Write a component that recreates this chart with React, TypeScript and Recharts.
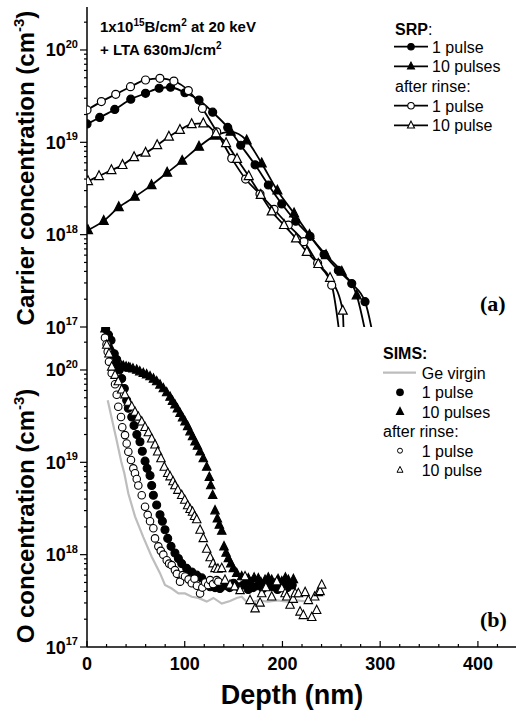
import React from 'react';
import { ComposedChart, Line, Scatter, XAxis, YAxis } from 'recharts';

const SANS = "'Liberation Sans', Arial, Helvetica, sans-serif";
const SERIF = "'Liberation Serif', 'Times New Roman', serif";

const DEPTH_MAX = 440;
const CONC_MIN = 1e17;
const CONC_MAX = 2.92e20;

// axis ticks
const depthTicks = [0, 20, 40, 60, 80, 100, 120, 140, 160, 180, 200, 220, 240, 260, 280, 300, 320, 340, 360, 380, 400, 420, 440];
const depthLabels = [0, 100, 200, 300, 400];
const concDecades = [1e17, 1e18, 1e19, 1e20];
const minorSteps = [2, 3, 4, 5, 6, 7, 8, 9];
const concTicks = [...concDecades, ...concDecades.flatMap((d) => minorSteps.map((m) => d * m))].filter(
  (v) => v <= CONC_MAX
);

// (a) SRP carrier profiles, depth in nm, concentration in cm^-3
// the last point of each profile is where the curve falls off below 1e17
const srp1Depth = [0, 13, 28.4, 44.8, 59.9, 73.8, 85.5, 100.2, 114.6, 128.6, 144, 157.3, 172, 185.6, 199.3, 213.6, 228.2, 242.6, 257.2, 270.9, 284.5, 295];
const srp1Conc = [1.58e19, 1.86e19, 2.27e19, 2.93e19, 3.39e19, 3.85e19, 3.95e19, 3.44e19, 2.87e19, 2.12e19, 1.45e19, 9.3e18, 5.7e18, 3.45e18, 2.15e18, 1.4e18, 9.6e17, 6.1e17, 4.1e17, 2.95e17, 1.88e17, 6e16];

const srp10Depth = [1, 17.1, 32.5, 48.9, 66, 82, 97.4, 114.6, 131, 147, 163.4, 178.8, 194.8, 211.9, 227.6, 244.6, 260.7, 276, 288];
const srp10Conc = [1.12e18, 1.41e18, 1.98e18, 2.57e18, 3.44e18, 4.68e18, 6.3e18, 8.95e18, 1.18e19, 1.3e19, 1.05e19, 5.9e18, 3.0e18, 1.7e18, 9.9e17, 6.0e17, 3.96e17, 2.2e17, 6e16];

const srpRinse1Depth = [0, 14.7, 29.4, 44.5, 59.9, 74.6, 88.9, 103.7, 118.1, 132.7, 148.1, 162.3, 177, 191.4, 206, 222, 236, 250.4, 260];
const srpRinse1Conc = [2.24e19, 2.76e19, 3.31e19, 4.0e19, 4.73e19, 4.93e19, 4.61e19, 3.63e19, 2.33e19, 1.3e19, 6.7e18, 4.0e18, 2.75e18, 1.88e18, 1.27e18, 8.4e17, 4.9e17, 2.84e17, 6e16];

const srpRinse10Depth = [1, 12.3, 25, 36.3, 48.2, 59.9, 71.8, 83.8, 95.1, 107.1, 119, 132, 142.3, 153.5, 165.5, 177.8, 189, 201.6, 213.9, 224.9, 236.7, 248.7, 261.7, 263];
const srpRinse10Conc = [3.8e18, 4.3e18, 5.0e18, 5.67e18, 6.9e18, 7.7e18, 9.3e18, 1.15e19, 1.36e19, 1.57e19, 1.6e19, 1.25e19, 9.8e18, 6.6e18, 4.3e18, 2.69e18, 1.78e18, 1.27e18, 9.1e17, 6.5e17, 4.8e17, 3.4e17, 1.5e17, 6e16];

// (b) SIMS oxygen profiles
const geVirginDepth = [21.2, 25, 30, 35, 38.2, 42.3, 49.1, 57.6, 66.2, 74.7, 79.8, 86.7, 93.5, 100.3, 107.2, 113.9, 122.5, 129.3, 137.9, 146.4, 153.2, 158.3, 165.1, 175, 185, 195, 205, 215, 225];
const geVirginConc = [4.7e19, 3.1e19, 1.8e19, 1.02e19, 7.6e18, 4.6e18, 2.6e18, 1.55e18, 9.5e17, 6.3e17, 4.7e17, 4.3e17, 3.8e17, 3.8e17, 3.5e17, 3.4e17, 3.1e17, 3.4e17, 2.95e17, 3.15e17, 3.4e17, 3.5e17, 2.95e17, 3.2e17, 3.1e17, 3.2e17, 3.1e17, 3.2e17, 3.1e17];

const sims1Depth = [19.1, 22, 24.6, 27.9, 30.4, 33, 35.5, 38.2, 40.6, 42.3, 45.8, 48.1, 51, 54.2, 56.6, 59.4, 61.5, 64.5, 66.2, 67.9, 71.3, 74.7, 77.1, 79.8, 82.6, 86, 90, 93.5, 96.9, 102, 107.2, 112.3, 117.4, 122, 126, 131, 136, 141, 146, 150, 155, 160, 165, 170, 175, 180, 185, 190, 195, 200, 205, 210];
const sims1Conc = [2.8e20, 2.4e20, 2.1e20, 1.5e20, 1.3e20, 1.0e20, 8.1e19, 6.3e19, 4.7e19, 3.85e19, 3.1e19, 2.5e19, 2.0e19, 1.67e19, 1.32e19, 1.03e19, 8.6e18, 7.2e18, 5.6e18, 4.4e18, 3.45e18, 2.7e18, 2.3e18, 1.86e18, 1.5e18, 1.23e18, 1.04e18, 9.1e17, 8.0e17, 7.1e17, 6.5e17, 6.0e17, 5.6e17, 5.0e17, 4.5e17, 4.4e17, 4.3e17, 4.6e17, 4.4e17, 4.9e17, 4.5e17, 4.7e17, 4.2e17, 4.4e17, 4.6e17, 4.3e17, 4.8e17, 4.5e17, 4.2e17, 4.6e17, 4.4e17, 4.7e17];

const sims10Depth = [18.4, 21, 23.5, 26, 28.5, 30.4, 33, 35.5, 37.2, 40, 42.5, 44, 47, 50.9, 54, 57.6, 61, 64.5, 68, 71.3, 74.7, 78.1, 81.5, 85, 87.5, 90, 92.5, 95.2, 97.8, 100.3, 103, 105.4, 108, 110.5, 113, 115.7, 119, 122.5, 125.2, 126.6, 128.6, 131, 133.4, 135.4, 137.9, 140.2, 142.3, 144.6, 147.1, 149.7, 153.2, 158.3, 162, 165.1, 168, 171, 175.3, 178, 182.2, 185.5, 189, 192, 195.5, 199.3, 203, 206, 208.5, 211.2];
const sims10Conc = [2.8e20, 2.3e20, 1.8e20, 1.45e20, 1.2e20, 1.13e20, 1.1e20, 1.1e20, 1.1e20, 1.08e20, 1.06e20, 1.05e20, 1.03e20, 1.0e20, 9.6e19, 9.2e19, 8.9e19, 8.5e19, 8.0e19, 7.5e19, 6.9e19, 6.3e19, 5.7e19, 5.1e19, 4.6e19, 4.2e19, 3.8e19, 3.4e19, 3.05e19, 2.75e19, 2.45e19, 2.15e19, 1.9e19, 1.67e19, 1.5e19, 1.3e19, 1.1e19, 8.9e18, 6.9e18, 5.6e18, 4.4e18, 3.0e18, 2.45e18, 2.1e18, 1.8e18, 1.22e18, 1.04e18, 9.1e17, 8.0e17, 7.1e17, 6.3e17, 5.8e17, 5.2e17, 5.5e17, 5.0e17, 5.6e17, 5.5e17, 5.0e17, 5.3e17, 5.6e17, 5.3e17, 4.8e17, 5.4e17, 5.1e17, 5.6e17, 5.3e17, 4.7e17, 5.4e17];

const simsRinse1Depth = [18.4, 20, 21.2, 22.5, 25.3, 28.7, 30.4, 32, 34.8, 36.1, 38.9, 40.6, 42.3, 45, 47.4, 49.1, 50.9, 52.5, 56, 59.4, 62.1, 64.5, 67.9, 69.6, 73, 75.5, 78.1, 81.6, 84, 86.7, 90, 92, 95.2, 98, 100.3, 104, 107.2, 110, 112.5, 115.7, 118, 121, 124, 126, 129, 132.7, 134.4];
const simsRinse1Conc = [2.24e20, 1.9e20, 1.58e20, 1.23e20, 9.2e19, 7.0e19, 5.4e19, 4.0e19, 3.1e19, 2.4e19, 1.97e19, 1.6e19, 1.3e19, 1.06e19, 8.6e18, 7.6e18, 6.6e18, 5.6e18, 4.4e18, 3.3e18, 2.7e18, 2.3e18, 1.93e18, 1.5e18, 1.23e18, 1.1e18, 1.0e18, 8.7e17, 8.0e17, 7.7e17, 6.8e17, 6.2e17, 5.1e17, 6.0e17, 5.8e17, 5.4e17, 4.9e17, 5.5e17, 4.6e17, 3.8e17, 4.4e17, 5.0e17, 4.7e17, 5.3e17, 4.8e17, 5.3e17, 5.1e17];

const simsRinse10Depth = [20.2, 22.5, 25.3, 28.7, 32, 35.5, 38.9, 42.3, 45.8, 49.1, 52.5, 56, 59.4, 62.8, 66.2, 69.6, 72.3, 75.7, 79.1, 82.6, 85, 88, 90, 93, 96.9, 100, 103, 105.5, 108, 110, 112.3, 115.7, 119, 122.5, 126, 129, 131, 134, 137.9, 141.2, 146.4, 151, 156.6, 161.7, 166.8, 172, 177.1, 178.8, 183, 189, 194.2, 199.3, 202.7, 204.4, 207.8, 211, 213, 216.3, 218, 221.4, 223.2, 226.5, 230, 233, 235, 236.7, 238.5, 240.2];
const simsRinse10Conc = [1.86e20, 1.5e20, 1.08e20, 8.8e19, 7.5e19, 6.1e19, 5.4e19, 4.5e19, 4.0e19, 3.5e19, 3.1e19, 2.75e19, 2.4e19, 2.1e19, 1.8e19, 1.55e19, 1.3e19, 1.1e19, 8.9e18, 7.6e18, 7.0e18, 6.2e18, 5.6e18, 5.0e18, 4.4e18, 3.9e18, 3.4e18, 3.1e18, 2.9e18, 2.6e18, 2.4e18, 1.85e18, 1.5e18, 1.15e18, 9.3e17, 8.0e17, 7.1e17, 7.0e17, 7.1e17, 5.3e17, 4.7e17, 4.5e17, 4.1e17, 5.8e17, 3.2e17, 2.6e17, 3.0e17, 3.8e17, 4.4e17, 3.5e17, 5.1e17, 4.3e17, 3.8e17, 3.5e17, 2.85e17, 3.3e17, 3.8e17, 3.8e17, 2.4e17, 2.2e17, 3.9e17, 3.2e17, 2.1e17, 3.5e17, 2.5e17, 3.9e17, 4.0e17, 4.7e17];

type Pt = { depth: number; conc: number };
const toPoints = (depth: number[], conc: number[]): Pt[] => depth.map((d, i) => ({ depth: d, conc: conc[i] }));

const srp1 = toPoints(srp1Depth, srp1Conc);
const srp10 = toPoints(srp10Depth, srp10Conc);
const srpRinse1 = toPoints(srpRinse1Depth, srpRinse1Conc);
const srpRinse10 = toPoints(srpRinse10Depth, srpRinse10Conc);
const geVirgin = toPoints(geVirginDepth, geVirginConc);
const sims1 = toPoints(sims1Depth, sims1Conc);
const sims10 = toPoints(sims10Depth, sims10Conc);
const simsRinse1 = toPoints(simsRinse1Depth, simsRinse1Conc);
const simsRinse10 = toPoints(simsRinse10Depth, simsRinse10Conc);

// ---------- markers ----------
type MarkerProps = { cx: number; cy: number; size: number; filled: boolean; sw?: number };

const Circle = ({ cx, cy, size, filled, sw = 1.2 }: MarkerProps) => (
  <circle cx={cx} cy={cy} r={size / 2} fill={filled ? '#000' : '#fff'} stroke="#000" strokeWidth={sw} />
);

const Triangle = ({ cx, cy, size, filled, sw = 1.2 }: MarkerProps) => (
  <polygon
    points={`${cx},${cy - size * 0.6} ${cx - size / 2},${cy + size * 0.38} ${cx + size / 2},${cy + size * 0.38}`}
    fill={filled ? '#000' : '#fff'}
    stroke="#000"
    strokeWidth={sw}
  />
);

// dots on SRP lines; the fall-off point below the axis gets no marker
const lineDot = (kind: 'circle' | 'triangle', filled: boolean) => (p: any) => {
  const key = `dot-${kind}-${filled}-${p.index}`;
  if (p.payload.conc < CONC_MIN) return <g key={key} />;
  const Shape = kind === 'circle' ? Circle : Triangle;
  return (
    <g key={key}>
      <Shape cx={p.cx} cy={p.cy} size={kind === 'circle' ? 8 : 9} filled={filled} />
    </g>
  );
};

const scatterShape = (kind: 'circle' | 'triangle', filled: boolean) => (p: any) => {
  const Shape = kind === 'circle' ? Circle : Triangle;
  return <Shape cx={p.cx} cy={p.cy} size={kind === 'circle' ? (filled ? 8 : 7.5) : 8.5} filled={filled} sw={1.1} />;
};

// ---------- ticks ----------
const MAJOR = 6;
const MINOR = 3;
const TICK_W = 1.2;

const LeftTick = (p: any) => {
  const v = p.payload.value;
  const major = concDecades.includes(v);
  return (
    <g>
      <line x1={p.x} x2={p.x - (major ? 7 : 3)} y1={p.y} y2={p.y} stroke="#000" strokeWidth={TICK_W} />
      {major && (
        <text x={p.x - 9} y={p.y + 6.5} textAnchor="end" fontFamily={SANS} fontWeight="bold" fontSize={18} fill="#000">
          10
          <tspan dy={-8.5} fontSize={11}>
            {Math.round(Math.log10(v))}
          </tspan>
        </text>
      )}
    </g>
  );
};

const RightTick = (p: any) => {
  const major = concDecades.includes(p.payload.value);
  return <line x1={p.x} x2={p.x - (major ? MAJOR : MINOR)} y1={p.y} y2={p.y} stroke="#000" strokeWidth={TICK_W} />;
};

const TopTick = (p: any) => {
  const major = depthLabels.includes(p.payload.value);
  return <line x1={p.x} x2={p.x} y1={p.y} y2={p.y + (major ? MAJOR : MINOR)} stroke="#000" strokeWidth={TICK_W} />;
};

const BottomTick = (showLabels: boolean) => (p: any) => {
  const v = p.payload.value;
  const major = depthLabels.includes(v);
  return (
    <g>
      <line x1={p.x} x2={p.x} y1={p.y} y2={p.y - (major ? MAJOR : MINOR)} stroke="#000" strokeWidth={TICK_W} />
      {showLabels && major && (
        <text x={p.x} y={p.y + 22.5} textAnchor="middle" fontFamily={SANS} fontWeight="bold" fontSize={18} fill="#000">
          {v}
        </text>
      )}
    </g>
  );
};

const axisLine = { stroke: '#000', strokeWidth: 1.5 };

const CHART_W = 518;

function Axes({ labels, bottomHeight }: { labels: boolean; bottomHeight: number }) {
  return [
    <XAxis
      key="xb"
      xAxisId="b"
      type="number"
      dataKey="depth"
      domain={[0, DEPTH_MAX]}
      allowDataOverflow
      ticks={depthTicks}
      interval={0}
      height={bottomHeight}
      tickSize={0}
      tickMargin={0}
      tickLine={false}
      axisLine={axisLine}
      tick={BottomTick(labels)}
    />,
    <XAxis
      key="xt"
      xAxisId="t"
      orientation="top"
      type="number"
      domain={[0, DEPTH_MAX]}
      allowDataOverflow
      ticks={depthTicks}
      interval={0}
      height={0}
      tickSize={0}
      tickMargin={0}
      tickLine={false}
      axisLine={axisLine}
      tick={TopTick}
    />,
    <YAxis
      key="yl"
      yAxisId="l"
      type="number"
      dataKey="conc"
      scale="log"
      domain={[CONC_MIN, CONC_MAX]}
      allowDataOverflow
      ticks={concTicks}
      interval={0}
      width={87}
      tickSize={0}
      tickMargin={0}
      tickLine={false}
      axisLine={axisLine}
      tick={LeftTick}
    />,
    <YAxis
      key="yr"
      yAxisId="r"
      orientation="right"
      type="number"
      scale="log"
      domain={[CONC_MIN, CONC_MAX]}
      allowDataOverflow
      ticks={concTicks}
      interval={0}
      width={0}
      tickSize={0}
      tickMargin={0}
      tickLine={false}
      axisLine={axisLine}
      tick={RightTick}
    />,
  ];
}

function SrpPanel() {
  return (
    <ComposedChart width={CHART_W} height={340} margin={{ top: 7, right: 1, bottom: 13, left: 0 }}>
      {Axes({ labels: false, bottomHeight: 0 })}
      <Line xAxisId="b" yAxisId="l" data={srp1} dataKey="conc" type="monotone" stroke="#000" strokeWidth={1.8}
        dot={lineDot('circle', true)} activeDot={false} isAnimationActive={false} />
      <Line xAxisId="b" yAxisId="l" data={srp10} dataKey="conc" type="monotone" stroke="#000" strokeWidth={1.8}
        dot={lineDot('triangle', true)} activeDot={false} isAnimationActive={false} />
      <Line xAxisId="b" yAxisId="l" data={srpRinse1} dataKey="conc" type="monotone" stroke="#000" strokeWidth={1.8}
        dot={lineDot('circle', false)} activeDot={false} isAnimationActive={false} />
      <Line xAxisId="b" yAxisId="l" data={srpRinse10} dataKey="conc" type="monotone" stroke="#000" strokeWidth={1.8}
        dot={lineDot('triangle', false)} activeDot={false} isAnimationActive={false} />
    </ComposedChart>
  );
}

function SimsPanel() {
  return (
    <ComposedChart width={CHART_W} height={393} margin={{ top: 7, right: 1, bottom: 0, left: 0 }}>
      {Axes({ labels: true, bottomHeight: 66 })}
      <Line xAxisId="b" yAxisId="l" data={geVirgin} dataKey="conc" type="linear" stroke="#bdbdbd" strokeWidth={2.2}
        dot={false} activeDot={false} isAnimationActive={false} />
      <Scatter xAxisId="b" yAxisId="l" data={sims1} shape={scatterShape('circle', true)} isAnimationActive={false} />
      <Scatter xAxisId="b" yAxisId="l" data={sims10} shape={scatterShape('triangle', true)} isAnimationActive={false} />
      <Scatter xAxisId="b" yAxisId="l" data={simsRinse1} shape={scatterShape('circle', false)} isAnimationActive={false} />
      <Scatter xAxisId="b" yAxisId="l" data={simsRinse10} shape={scatterShape('triangle', false)} isAnimationActive={false} />
    </ComposedChart>
  );
}

// legend row: sample line with marker, then label
const LegendLine = ({ y, kind, filled }: { y: number; kind: 'circle' | 'triangle'; filled: boolean }) => {
  const Shape = kind === 'circle' ? Circle : Triangle;
  return (
    <g>
      <line x1={394} x2={428} y1={y} y2={y} stroke="#000" strokeWidth={1.8} />
      <Shape cx={411} cy={y} size={kind === 'circle' ? 6.5 : 7} filled={filled} sw={1.1} />
    </g>
  );
};

function Overlay() {
  const t = { fontFamily: SANS, fill: '#000' };
  return (
    <svg width={516} height={713} style={{ position: 'absolute', left: 0, top: 0, pointerEvents: 'none' }}>
      {/* axis titles */}
      <text {...t} transform="translate(34,168) rotate(-90)" textAnchor="middle" fontSize={24} fontWeight="bold">
        Carrier concentration (cm<tspan dy={-10} fontSize={15}>-3</tspan>
        <tspan dy={10}>)</tspan>
      </text>
      <text {...t} transform="translate(34,516) rotate(-90)" textAnchor="middle" fontSize={24} fontWeight="bold">
        O concentration (cm<tspan dy={-10} fontSize={15}>-3</tspan>
        <tspan dy={10}>)</tspan>
      </text>
      <text {...t} x={292} y={704} textAnchor="middle" fontSize={27} fontWeight="bold">
        Depth (nm)
      </text>

      {/* implant / anneal conditions */}
      <text {...t} x={100} y={31.5} fontSize={15} fontWeight="bold">
        1x10<tspan dy={-6} fontSize={10}>15</tspan>
        <tspan dy={6}>B/cm</tspan>
        <tspan dy={-6} fontSize={10}>2</tspan>
        <tspan dy={6}> at 20 keV</tspan>
      </text>
      <text {...t} x={100} y={54.5} fontSize={15} fontWeight="bold">
        + LTA 630mJ/cm<tspan dy={-6} fontSize={10}>2</tspan>
      </text>

      {/* SRP legend */}
      <text {...t} x={395} y={35} fontSize={16}>
        <tspan fontWeight="bold">SRP</tspan>:
      </text>
      <LegendLine y={46.7} kind="circle" filled />
      <text {...t} x={432} y={52.5} fontSize={16}>1 pulse</text>
      <LegendLine y={66.3} kind="triangle" filled />
      <text {...t} x={432} y={72.1} fontSize={16}>10 pulses</text>
      <text {...t} x={395} y={91.8} fontSize={16}>after rinse:</text>
      <LegendLine y={105.7} kind="circle" filled={false} />
      <text {...t} x={432} y={111.5} fontSize={16}>1 pulse</text>
      <LegendLine y={125.3} kind="triangle" filled={false} />
      <text {...t} x={432} y={131.1} fontSize={16}>10 pulse</text>

      {/* SIMS legend */}
      <text {...t} x={383} y={359} fontSize={16} fontWeight="bold">SIMS:</text>
      <line x1={383} x2={416} y1={372.7} y2={372.7} stroke="#bdbdbd" strokeWidth={2.2} />
      <text {...t} x={421.7} y={378.5} fontSize={16}>Ge virgin</text>
      <Circle cx={400} cy={392.3} size={6.5} filled />
      <text {...t} x={421.7} y={398.3} fontSize={16}>1 pulse</text>
      <Triangle cx={400} cy={411.7} size={7} filled />
      <text {...t} x={421.7} y={417.6} fontSize={16}>10 pulses</text>
      <text {...t} x={383} y={437} fontSize={16}>after rinse:</text>
      <Circle cx={400} cy={450.7} size={5} filled={false} sw={1} />
      <text {...t} x={421.7} y={456.5} fontSize={16}>1 pulse</text>
      <Triangle cx={400} cy={470} size={6} filled={false} sw={1} />
      <text {...t} x={421.7} y={476} fontSize={16}>10 pulse</text>

      {/* panel tags */}
      <text x={480} y={311} fontFamily={SERIF} fontWeight="bold" fontSize={22} fill="#000">(a)</text>
      <text x={480} y={627} fontFamily={SERIF} fontWeight="bold" fontSize={22} fill="#000">(b)</text>
    </svg>
  );
}

export default function App() {
  return (
    <div style={{ position: 'absolute', left: 0, top: 0, width: 516, height: 713, overflow: 'hidden', background: '#fff' }}>
      <div style={{ position: 'absolute', left: 0, top: 0 }}>
        <SrpPanel />
      </div>
      <div style={{ position: 'absolute', left: 0, top: 320 }}>
        <SimsPanel />
      </div>
      <Overlay />
    </div>
  );
}
